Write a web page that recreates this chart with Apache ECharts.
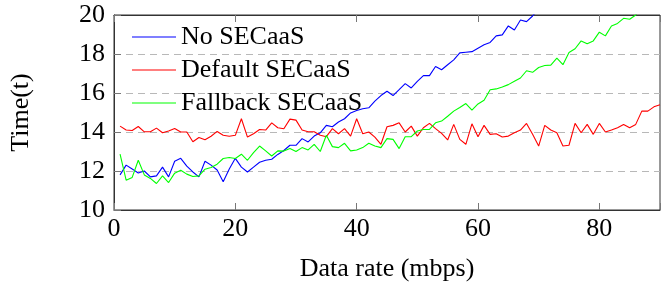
<!DOCTYPE html>
<html>
<head>
<meta charset="utf-8">
<script src="https://cdn.jsdelivr.net/npm/echarts@6/dist/echarts.min.js"></script>
<style>
  html, body { margin: 0; padding: 0; background: #fff; }
  #chart { width: 663px; height: 287px; }
</style>
</head>
<body>
<div id="chart"></div>
<script>
const seriesNames = ['No SECaaS', 'Default SECaaS', 'Fallback SECaaS']
const xTicks = [0, 20, 40, 60, 80]
const yTicks = [10, 12, 14, 16, 18, 20]

// one value per mbps step, starting at 1
const noSecaas = [
  11.8, 12.3, 12.1, 11.9, 12.0, 11.7, 11.75, 12.2, 11.7, 12.5,
  12.65, 12.25, 11.95, 11.7, 12.5, 12.3, 12.05, 11.45, 12.1, 12.65,
  12.2, 11.95, 12.2, 12.45, 12.55, 12.6, 12.85, 13.05, 13.32, 13.32,
  13.66, 13.49, 13.79, 13.96, 14.34, 14.27, 14.51, 14.68, 14.98, 15.1,
  15.19, 15.24, 15.58, 15.87, 16.09, 15.87, 16.17, 16.48, 16.26, 16.6,
  16.89, 16.89, 17.36, 17.19, 17.45, 17.7, 18.06, 18.09, 18.12, 18.3,
  18.47, 18.59, 18.93, 18.98, 19.44, 19.23, 19.74, 19.66, 19.95, 20.3
]
const defaultSecaas = [
  14.3, 14.1, 14.08, 14.28, 14.01, 14.01, 14.2, 13.96, 14.05, 14.18,
  14.0, 14.0, 13.5, 13.72, 13.6, 13.78, 14.03, 13.83, 13.78, 13.83,
  14.68, 13.74, 13.91, 14.13, 14.1, 14.47, 14.22, 14.17, 14.66, 14.61,
  14.1, 14.01, 14.01, 13.83, 13.76, 14.17, 13.91, 14.17, 13.79, 14.68,
  13.91, 14.0, 13.74, 13.37, 14.27, 14.34, 14.47, 14.0, 14.3, 13.79,
  14.22, 14.44, 14.17, 13.93, 13.59, 14.39, 13.62, 13.37, 14.42, 13.76,
  14.34, 13.88, 13.91, 13.74, 13.79, 13.96, 14.1, 14.44, 13.88, 13.28,
  14.34, 14.1, 13.96, 13.28, 13.32, 14.44, 13.96, 14.39, 13.88, 14.44,
  14.0, 14.1, 14.22, 14.39, 14.22, 14.39, 15.07, 15.07, 15.29, 15.4
]
const fallbackSecaas = [
  12.86, 11.53, 11.67, 12.55, 11.8, 11.62, 11.36, 11.75, 11.41, 11.89,
  12.04, 11.84, 11.72, 11.75, 12.09, 12.18, 12.35, 12.64, 12.69, 12.64,
  12.86, 12.55, 12.94, 13.28, 13.03, 12.77, 13.03, 13.02, 13.15, 13.0,
  13.2, 13.08, 13.37, 13.0, 13.83, 13.25, 13.2, 13.42, 13.03, 13.08,
  13.2, 13.42, 13.28, 13.2, 13.66, 13.62, 13.15, 13.76, 13.76, 14.05,
  14.13, 14.13, 14.47, 14.56, 14.81, 15.07, 15.26, 15.46, 15.12, 15.44,
  15.63, 16.17, 16.21, 16.31, 16.43, 16.6, 16.77, 17.14, 17.06, 17.31,
  17.41, 17.43, 17.79, 17.45, 18.08, 18.27, 18.67, 18.52, 18.67, 19.12,
  18.93, 19.44, 19.57, 19.83, 19.78, 20.0, 20.4
]

const FONT = '"Liberation Serif", "Times New Roman", serif'
const toPoints = vals => vals.map((v, i) => [i + 1, v])

const chart = echarts.init(document.getElementById('chart'))

function line(name, data, color) {
  return {
    name,
    type: 'line',
    data: toPoints(data),
    symbol: 'none',
    clip: true,
    lineStyle: { color, width: 1.1 },
    itemStyle: { color },
  }
}

chart.setOption({
  animation: false,
  textStyle: { fontFamily: FONT },
  grid: {
    left: 113, right: -4, top: 15, bottom: 76,
    show: true, borderColor: '#333', borderWidth: 1,
  },
  legend: {
    orient: 'vertical',
    left: 132, top: 24,
    padding: 0,
    icon: 'rect',
    itemWidth: 44, itemHeight: 1.2, itemGap: 7,
    textStyle: { fontFamily: FONT, fontSize: 26, color: '#000' },
    data: seriesNames,
  },
  xAxis: [
    {
      type: 'value',
      min: xTicks[0], max: 90, interval: 20,
      name: 'Data rate (mbps)',
      nameLocation: 'middle', nameGap: 46,
      nameTextStyle: { fontFamily: FONT, fontSize: 26, color: '#000' },
      axisLine: { lineStyle: { color: '#333' } },
      axisTick: { inside: true, length: 7, lineStyle: { color: '#777' } },
      axisLabel: { fontFamily: FONT, fontSize: 26, color: '#000', margin: 6,
        formatter: v => xTicks.includes(v) ? String(v) : '' },
      splitLine: { show: false },
    },
    {
      type: 'value', position: 'top',
      min: xTicks[0], max: 90, interval: 20,
      axisLine: { lineStyle: { color: '#333' } },
      axisTick: { inside: true, length: 7, lineStyle: { color: '#777' } },
      axisLabel: { show: false },
      splitLine: { show: false },
    },
  ],
  yAxis: {
    type: 'value',
    min: yTicks[0], max: yTicks[yTicks.length - 1], interval: 2,
    name: 'Time(t)',
    nameLocation: 'middle', nameGap: 80, nameRotate: 90,
    nameTextStyle: { fontFamily: FONT, fontSize: 26, color: '#000' },
    axisLine: { show: true, lineStyle: { color: '#333' } },
    axisTick: { show: true, inside: true, length: 7, lineStyle: { color: '#777' } },
    axisLabel: { fontFamily: FONT, fontSize: 26, color: '#000', margin: 9 },
    splitLine: { lineStyle: { color: '#b8b8b8', type: [7, 5], width: 1 } },
  },
  series: [
    line(seriesNames[0], noSecaas, '#0000ff'),
    line(seriesNames[1], defaultSecaas, '#ff0000'),
    line(seriesNames[2], fallbackSecaas, '#00ff00'),
  ],
})
</script>
</body>
</html>
